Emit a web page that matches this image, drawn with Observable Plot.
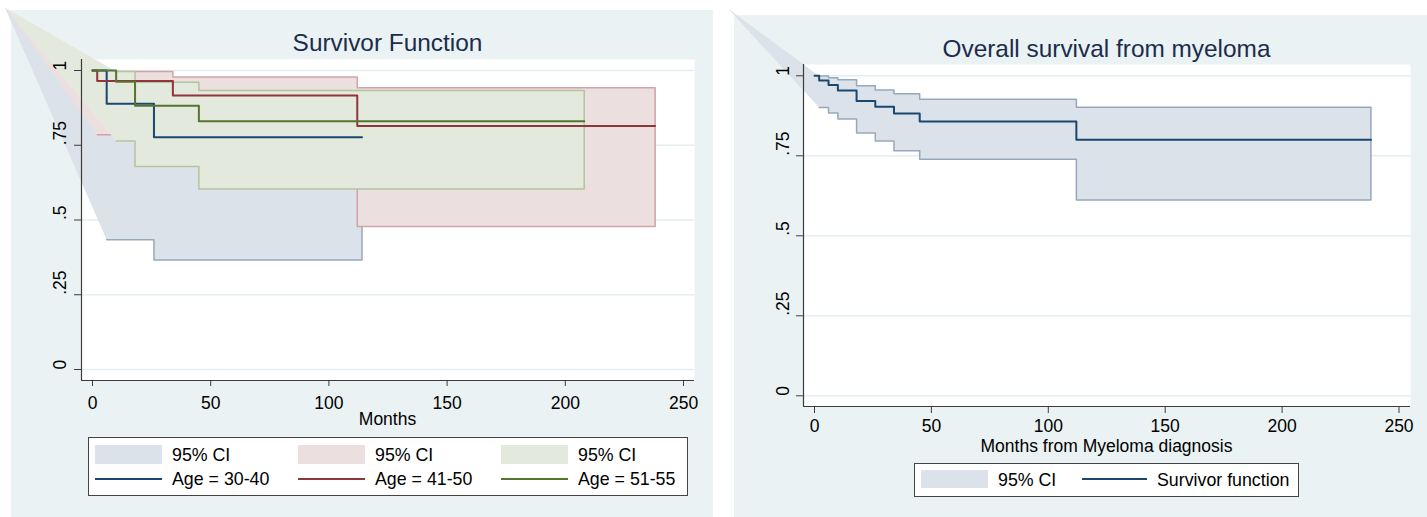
<!DOCTYPE html>
<html>
<head>
<meta charset="utf-8">
<script src="https://cdn.jsdelivr.net/npm/d3@7"></script>
<script src="https://cdn.jsdelivr.net/npm/@observablehq/plot@0.6"></script>
<style>
  html, body { margin: 0; padding: 0; }
  body { width: 1427px; height: 517px; position: relative; overflow: hidden; background: #fff;
         font-family: "Liberation Sans", Arial, Helvetica, sans-serif; }
  .abs { position: absolute; }
  .bg { position: absolute; background: #eaf2f3; }
  .txt { position: absolute; white-space: nowrap; line-height: 0.8; color: #000; }
  .legend { position: absolute; background: #fff; border: 1px solid #444; box-sizing: border-box; }
</style>
</head>
<body>
<script>
// ---------------- DATA ----------------
// Left panel: Kaplan-Meier by age group (months, survival)
const groupLabels = ["Age = 30-40", "Age = 41-50", "Age = 51-55"];
const ciLabel = "95% CI";

const age3040Time = [0, 6, 26];
const age3040Surv = [1, 0.889, 0.777];
const age3040End = 114;
const age3040CiTime = [6, 26];
const age3040Lower = [0.434, 0.366];
const age3040Upper = [0.984, 0.940];

const age4150Time = [0, 2, 34, 112];
const age4150Surv = [1, 0.965, 0.916, 0.814];
const age4150End = 238;
const age4150CiTime = [2, 34, 112];
const age4150Lower = [0.785, 0.700, 0.478];
const age4150Upper = [0.997, 0.978, 0.942];

const age5155Time = [0, 10, 18, 45];
const age5155Surv = [1, 0.962, 0.882, 0.830];
const age5155End = 208;
const age5155CiTime = [10, 18, 45];
const age5155Lower = [0.764, 0.679, 0.604];
const age5155Upper = [0.997, 0.961, 0.933];

// Right panel: overall survival
const allTime = [0, 2, 6, 10, 18, 26, 34, 45, 112];
const allSurv = [1, 0.985, 0.971, 0.954, 0.921, 0.903, 0.882, 0.857, 0.800];
const allEnd = 238;
const allCiTime = [2, 6, 10, 18, 26, 34, 45, 112];
const allLower = [0.901, 0.884, 0.865, 0.821, 0.796, 0.766, 0.739, 0.612];
const allUpper = [0.999, 0.994, 0.988, 0.969, 0.956, 0.944, 0.927, 0.902];

// Axis ticks
const xTicks = [0, 50, 100, 150, 200, 250];
const yTicks = [0, 0.25, 0.5, 0.75, 1];
const yTickLabels = ["0", ".25", ".5", ".75", "1"];

// The missing CI at month 0 is plotted by Stata at a point off the graph's top-left corner
const ciMissingMonth = -37;
const ciMissingSurv = 1.21;

// ---------------- STYLE ----------------
const navy = "#1a476f", maroon = "#90353b", forest = "#55752f";
const navyFill = "#dce2e9", maroonFill = "#ebdfe0", forestFill = "#e4e9dd";
const navyEdge = "#97a8bc", maroonEdge = "#d4a2a6", forestEdge = "#b4c49d";
const axisCol = "#3c3c3c";
const font = "Liberation Sans, Arial, Helvetica, sans-serif";

// ---------------- HELPERS ----------------
function steps(times, values, end) {
  const pts = [];
  times.forEach((t, i) => {
    const next = i + 1 < times.length ? times[i + 1] : end;
    pts.push({m: t, s: values[i]}, {m: next, s: values[i]});
  });
  return pts;
}
function ciMarks(time, lower, upper, end, fill, edge) {
  const up = steps(time, upper, end);
  const lo = steps(time, lower, end).reverse();
  const anchor = {m: ciMissingMonth, s: ciMissingSurv};
  return [
    Plot.line([anchor, ...up, ...lo, anchor], {x: "m", y: "s", fill, stroke: "none", curve: "linear"}),
    Plot.line([...up, ...lo], {x: "m", y: "s", stroke: edge, strokeWidth: 1.5, curve: "linear"})
  ];
}
function survLine(time, surv, end, color) {
  return Plot.line(steps(time, surv, end), {x: "m", y: "s", stroke: color, strokeWidth: 2, curve: "linear"});
}
function panel(o) {
  return Plot.plot({
    width: o.width, height: o.height,
    marginLeft: o.ml, marginRight: o.mr, marginTop: o.mt, marginBottom: o.mb,
    style: {background: "transparent", overflow: "visible", fontFamily: font},
    x: {domain: o.xDomain},
    y: {domain: o.yDomain},
    marks: [
      Plot.frame({fill: "white", stroke: "none"}),
      Plot.ruleY(yTicks, {stroke: "#e4eef0", strokeWidth: 1.5}),
      ...o.marks,
      Plot.ruleX([o.xDomain[0]], {stroke: axisCol, strokeWidth: 1.2}),
      Plot.ruleY([o.yDomain[0]], {stroke: axisCol, strokeWidth: 1.2}),
      Plot.axisX({ticks: xTicks, tickSize: o.xTickSize, tickPadding: o.xTickPad, fontSize: 17.5,
                  label: null, stroke: axisCol, fill: "black"}),
      Plot.axisY({ticks: yTicks, tickSize: 7, tickFormat: () => "", label: null, stroke: axisCol}),
      Plot.text(yTicks, {y: d => d, text: (d, i) => yTickLabels[i], frameAnchor: "left",
                         rotate: -90, dx: o.yLabelDx, fontSize: 17.5, fill: "black", lineAnchor: "middle"})
    ]
  });
}
function addDiv(cls, css, text) {
  const d = document.createElement("div");
  d.className = cls;
  Object.assign(d.style, css);
  if (text != null) d.textContent = text;
  document.body.appendChild(d);
  return d;
}
// text placed by baseline (Liberation Sans, line-height 0.8: baseline ~0.7465em below top)
function addText(text, x, baseline, size, opts = {}) {
  const css = {left: x + "px", top: (baseline - 0.7465 * size) + "px", fontSize: size + "px"};
  if (opts.center) css.transform = "translateX(-50%)";
  if (opts.color) css.color = opts.color;
  return addDiv("txt", css, text);
}

// ---------------- LEFT PANEL ----------------
addDiv("bg", {left: "11px", top: "10px", width: "702px", height: "507px"});
const left = panel({
  width: 720, height: 517, ml: 81, mr: 26, mt: 59, mb: 137,
  xDomain: [-4.653, 254.65], yDomain: [-0.0368, 1.0368],
  xTickSize: 6, xTickPad: 10, yLabelDx: -21.5,
  marks: [
    ...ciMarks(age3040CiTime, age3040Lower, age3040Upper, age3040End, navyFill, navyEdge),
    ...ciMarks(age4150CiTime, age4150Lower, age4150Upper, age4150End, maroonFill, maroonEdge),
    ...ciMarks(age5155CiTime, age5155Lower, age5155Upper, age5155End, forestFill, forestEdge),
    survLine(age3040Time, age3040Surv, age3040End, navy),
    survLine(age4150Time, age4150Surv, age4150End, maroon),
    survLine(age5155Time, age5155Surv, age5155End, forest)
  ]
});
Object.assign(left.style, {position: "absolute", left: "0px", top: "0px"});
document.body.appendChild(left);
addText("Survivor Function", 387.5, 51, 24.4, {center: true, color: "#1c2c4c"});
addText("Months", 387.5, 425, 17.5, {center: true});

// left legend
addDiv("legend", {left: "88px", top: "437px", width: "600px", height: "59px"});
const legCols = [95, 298, 501];
const legFills = [navyFill, maroonFill, forestFill];
const legLines = [navy, maroon, forest];
legCols.forEach((x, i) => {
  addDiv("abs", {left: x + "px", top: "445px", width: "67px", height: "19px", background: legFills[i]});
  addText(ciLabel, x + 77, 461.7, 17.8);
  addDiv("abs", {left: x + "px", top: "477.7px", width: "67px", height: "2px", background: legLines[i]});
  addText(groupLabels[i], x + 77, 485.5, 17.8);
});

// ---------------- RIGHT PANEL ----------------
addDiv("bg", {left: "734px", top: "15px", width: "693px", height: "502px"});
const right = panel({
  width: 707, height: 517, ml: 83, mr: 17, mt: 64, mb: 111,
  xDomain: [-4.705, 254.92], yDomain: [-0.0334, 1.0353],
  xTickSize: 7, xTickPad: 6, yLabelDx: -20.5,
  marks: [
    ...ciMarks(allCiTime, allLower, allUpper, allEnd, navyFill, navyEdge),
    survLine(allTime, allSurv, allEnd, navy)
  ]
});
Object.assign(right.style, {position: "absolute", left: "720px", top: "0px"});
document.body.appendChild(right);
addText("Overall survival from myeloma", 1106.5, 57, 24.4, {center: true, color: "#1c2c4c"});
addText("Months from Myeloma diagnosis", 1106.5, 452.5, 17.5, {center: true});

addDiv("legend", {left: "914px", top: "462.5px", width: "385px", height: "34px"});
addDiv("abs", {left: "921px", top: "470px", width: "67px", height: "18px", background: navyFill});
addText(ciLabel, 998, 486.7, 17.8);
addDiv("abs", {left: "1082px", top: "478px", width: "65px", height: "2px", background: navy});
addText("Survivor function", 1157, 486.7, 17.8);
</script>
</body>
</html>
